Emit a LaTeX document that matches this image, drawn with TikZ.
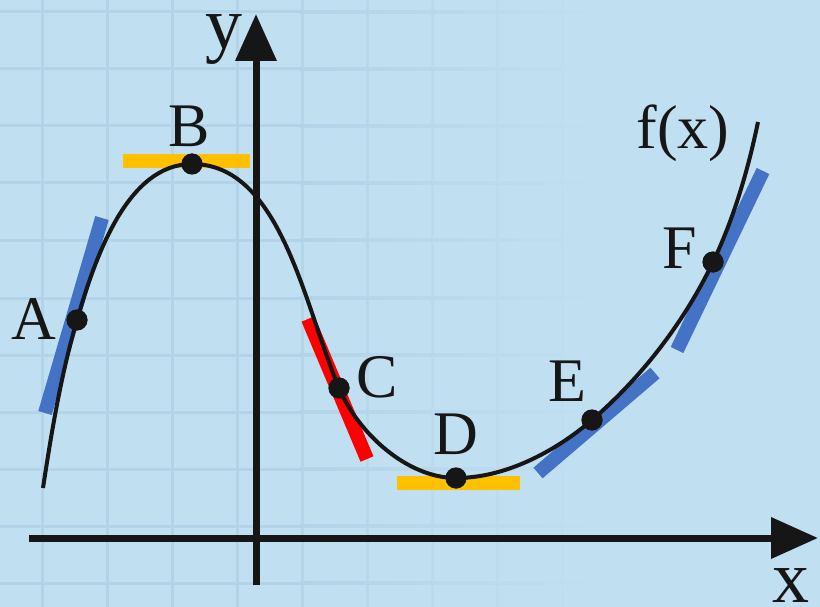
\documentclass[tikz,border=0pt]{standalone}
\usepackage{fontspec}
\setmainfont{Liberation Serif}
\usetikzlibrary{arrows.meta}
\definecolor{bgc}{HTML}{C0DFF1}
\definecolor{gridc}{HTML}{B3D3E8}
\definecolor{tblue}{HTML}{4472C4}
\definecolor{tyellow}{HTML}{FFC000}
\definecolor{tred}{HTML}{FF0000}
\definecolor{ink}{HTML}{161616}
\tikzset{
  axis/.style={line width=7pt, draw=ink, -{Triangle[length=47pt,width=40pt]}},
  fcurve/.style={line width=4pt, draw=ink},
  tangent/.style={line width=14pt},
  pt/.style={circle, fill=ink, inner sep=0pt, minimum size=21pt},
  lbl/.style={font=\fontsize{62}{62}\selectfont, text=ink, inner sep=0pt},
  axlbl/.style={font=\fontsize{74}{74}\selectfont, text=ink, inner sep=0pt, anchor=base},
  gridline/.style={line width=3pt}
}
\begin{document}
\begin{tikzpicture}[x=1pt,y=-1pt]
\fill[bgc] (0,0) rectangle (820,607);
\useasboundingbox (0,0) rectangle (820,607);
% grid (fading out to the right)
\foreach \gx/\gm in {42/100,107/100,172/100,237/100,302/85,367/65,432/45,497/28,562/12}
  \draw[gridline, draw=gridc!\gm!bgc] (\gx,0) -- (\gx,607);
\foreach \gy in {12,69,126,183,240,298,355,412,469,526,583}{
  \fill[gridc] (0,\gy-1.5) rectangle (300,\gy+1.5);
  \shade[left color=gridc, right color=bgc] (300,\gy-1.5) rectangle (600,\gy+1.5);
}
% tangents
\draw[tangent, tblue] (45,413) -- (102,218);
\draw[tangent, tyellow] (123,161) -- (250,161);
\draw[tangent, tred] (308,319) -- (367,459);
\draw[tangent, tyellow] (397,483) -- (520,483);
\draw[tangent, tblue] (538,473) -- (655,373);
\draw[tangent, tblue] (677,350) -- (763,171);
% axes
\coordinate (xs) at (29,538);
\coordinate (xe) at (818,538);
\coordinate (ys) at (256,585);
\coordinate (ye) at (256,14);
\draw[axis] (xs) -- (xe);
\draw[axis] (ys) -- (ye);
% points
\coordinate (S) at (43,488);
\coordinate (T) at (758,122);
\node[pt] (A) at (77,320) {};
\node[pt] (B) at (192,164) {};
\node[pt] (C) at (339,388) {};
\node[pt] (D) at (456,478) {};
\node[pt] (E) at (592,420) {};
\node[pt] (F) at (713,262) {};
% curve
\draw[fcurve] (S) .. controls (51.6,431.6) and (61,374.7) .. (A.center)
  .. controls (95.2,257.6) and (127,164) .. (B.center)
  .. controls (281,164) and (304.3,306.1) .. (C.center)
  .. controls (358,433) and (407,478) .. (D.center)
  .. controls (505,478) and (554.8,451.9) .. (E.center)
  .. controls (642,377) and (684.6,321.4) .. (F.center)
  .. controls (734,218) and (748,170) .. (T);
% redraw dots on top
\foreach \p in {A,B,C,D,E,F} \fill[ink] (\p.center) circle (10.5pt);
% labels
\node[lbl] (lA) at (34,319) {A};
\node[lbl] (lB) at (189,126) {B};
\node[lbl] (lC) at (377,377) {C};
\node[lbl] (lD) at (456,434) {D};
\node[lbl] (lE) at (567,381) {E};
\node[lbl] (lF) at (680,248) {F};
\node[lbl] (lf) at (683,133) {f(x)};
\node[axlbl] (ly) at (224,49) {y};
\node[axlbl] (lx) at (791,602) {x};
\end{tikzpicture}
\end{document}
